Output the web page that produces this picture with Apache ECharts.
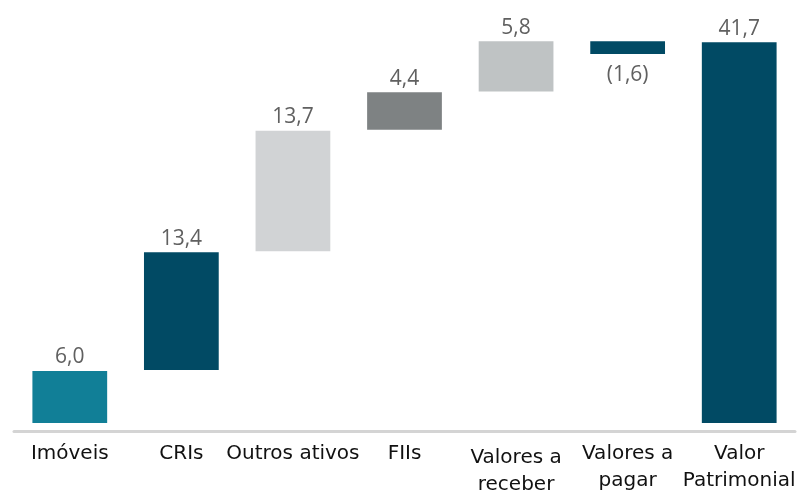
<!DOCTYPE html>
<html>
<head>
<meta charset="utf-8">
<script src="https://cdn.jsdelivr.net/npm/echarts@6/dist/echarts.min.js"></script>
<style>
  html, body { margin: 0; padding: 0; background: #fff; }
  #chart { width: 804px; height: 490px; }
</style>
</head>
<body>
<div id="chart"></div>
<script>
// categorias do eixo x
var categories = ['Imóveis', 'CRIs', 'Outros ativos', 'FIIs', 'Valores a\nreceber', 'Valores a\npagar', 'Valor\nPatrimonial'];
// rótulos dos valores (como aparecem no gráfico)
var valueLabels = ['6,0', '13,4', '13,7', '4,4', '5,8', '(1,6)', '41,7'];
// início e fim de cada barra
var barLow = [0, 5.8, 18.8, 32.1, 36.3, 40.4, 0];
var barHigh = [5.7, 18.7, 32.0, 36.2, 41.8, 41.8, 41.7];
var barColors = ['#117f97', '#014a64', '#d1d3d5', '#7e8283', '#bfc3c4', '#014a64', '#014a64'];

var chart = echarts.init(document.getElementById('chart'));

var baseData = [];
var barData = [];
for (var i = 0; i < categories.length; i++) {
    var negative = valueLabels[i].charAt(0) == '(';
    baseData.push(barLow[i]);
    barData.push({
        value: barHigh[i] - barLow[i],
        itemStyle: { color: barColors[i] },
        label: { position: negative ? 'bottom' : 'top', distance: negative ? 11 : 3 }
    });
}

chart.setOption({
    animation: false,
    grid: { left: 14, right: 9, top: 12, bottom: 67, outerBoundsMode: 'none', containLabel: false },
    xAxis: {
        type: 'category',
        data: categories,
        offset: 8,
        axisLine: { onZero: false, lineStyle: { color: '#d4d4d4', width: 3 } },
        axisTick: { show: false },
        axisLabel: {
            interval: 0,
            color: '#111',
            fontFamily: 'DejaVu Sans',
            fontSize: 20,
            lineHeight: 27,
            margin: 9,
            formatter: function (v, idx) {
                return idx == 4 ? '{low|' + v.split('\n').join('}\n{low|') + '}' : v;
            },
            rich: {
                low: { fontFamily: 'DejaVu Sans', fontSize: 20, lineHeight: 27, color: '#111', padding: [9, 0, 0, 0] }
            }
        }
    },
    yAxis: {
        type: 'value',
        min: 0,
        max: 45,
        show: false,
        splitLine: { show: false }
    },
    series: [
        {
            type: 'bar',
            stack: 'w',
            data: baseData,
            itemStyle: { color: 'transparent' },
            silent: true,
            barWidth: '67%'
        },
        {
            type: 'bar',
            stack: 'w',
            data: barData,
            barWidth: '67%',
            label: {
                show: true,
                color: '#606060',
                fontFamily: 'Open Sans',
                fontSize: 21,
                formatter: function (p) { return valueLabels[p.dataIndex]; }
            }
        }
    ]
});
</script>
</body>
</html>
